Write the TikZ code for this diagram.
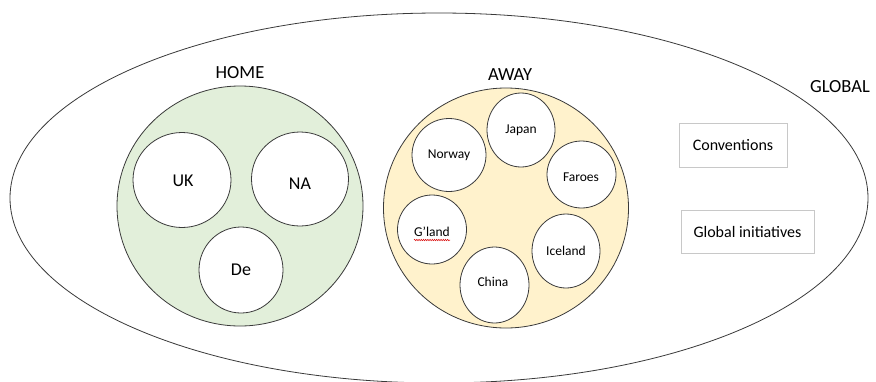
\documentclass[tikz,border=0pt]{standalone}
\usepackage{fontspec}
\setmainfont{Carlito}
\usetikzlibrary{shapes.geometric,decorations.pathmorphing}
\definecolor{homefill}{HTML}{E2EFDA}
\definecolor{awayfill}{HTML}{FFF2CC}
\definecolor{boxline}{HTML}{C8C8C8}
\definecolor{outline}{HTML}{3A3A3A}
\begin{document}
\begin{tikzpicture}[x=1pt,y=-1pt,
  blob/.style={ellipse,draw=outline,line width=0.8pt,inner sep=0pt},
  bigc/.style={blob,fill=white,font=\fontsize{18}{20}\selectfont},
  smallc/.style={blob,fill=white,font=\fontsize{13.5}{15}\selectfont},
  lbl/.style={inner sep=0pt,font=\fontsize{18.5}{20}\selectfont},
  gbox/.style={draw=boxline,line width=0.9pt,inner sep=0pt,font=\fontsize{16}{18}\selectfont}
]
\useasboundingbox (0,0) rectangle (876,381);
\fill[white] (0,0) rectangle (876,381);
% global ellipse
\node[blob,minimum width=858pt,minimum height=370pt] (global) at (439,198) {};
\node[lbl] (globallbl) at (840,87) {GLOBAL};
% home
\node[blob,fill=homefill,minimum width=246pt,minimum height=240pt] (home) at (240,206) {};
\node[lbl] (homelbl) at (240,73) {HOME};
\node[bigc,minimum width=98pt,minimum height=95pt] (uk) at (182,180) {};
\node[inner sep=0pt,font=\fontsize{18}{20}\selectfont] at (183,181) {UK};
\node[bigc,minimum width=97pt,minimum height=94pt] (na) at (300,179) {};
\node[inner sep=0pt,font=\fontsize{18}{20}\selectfont] at (300,184) {NA};
\node[bigc,minimum width=84pt,minimum height=86pt] (de) at (241,270) {De};
% away
\node[blob,fill=awayfill,minimum width=245pt,minimum height=240pt] (away) at (506,208) {};
\node[lbl] (awaylbl) at (510,75) {AWAY};
\node[smallc,minimum width=68pt,minimum height=74pt] (japan) at (521,130) {Japan};
\node[smallc,minimum width=74pt,minimum height=73pt] (norway) at (449,155) {Norway};
\node[smallc,minimum width=69pt,minimum height=67pt] (faroes) at (581.5,174.5) {};
\node[inner sep=0pt,font=\fontsize{13.5}{15}\selectfont] at (581,177) {Faroes};
\node[smallc,minimum width=69pt,minimum height=69pt] (gland) at (432,229.5) {};
\node[inner sep=0pt,font=\fontsize{13.5}{15}\selectfont] (glandtxt) at (432,232) {G’land};
\draw[red!85!black,line width=0.5pt,decorate,decoration={snake,amplitude=0.7pt,segment length=2.2pt}]
  ([yshift=-3pt]glandtxt.south west) -- ([yshift=-3pt]glandtxt.south east);
\node[smallc,minimum width=68pt,minimum height=74pt] (iceland) at (566,251) {Iceland};
\node[smallc,minimum width=69pt,minimum height=76pt] (china) at (494.5,285) {};
\node[inner sep=0pt,font=\fontsize{13.5}{15}\selectfont] at (493,282) {China};
% boxes
\node[gbox,minimum width=108pt,minimum height=44pt] (conv) at (733,145) {Conventions};
\node[gbox,minimum width=133pt,minimum height=43pt] (gi) at (747.5,231.5) {Global initiatives};
\end{tikzpicture}
\end{document}
